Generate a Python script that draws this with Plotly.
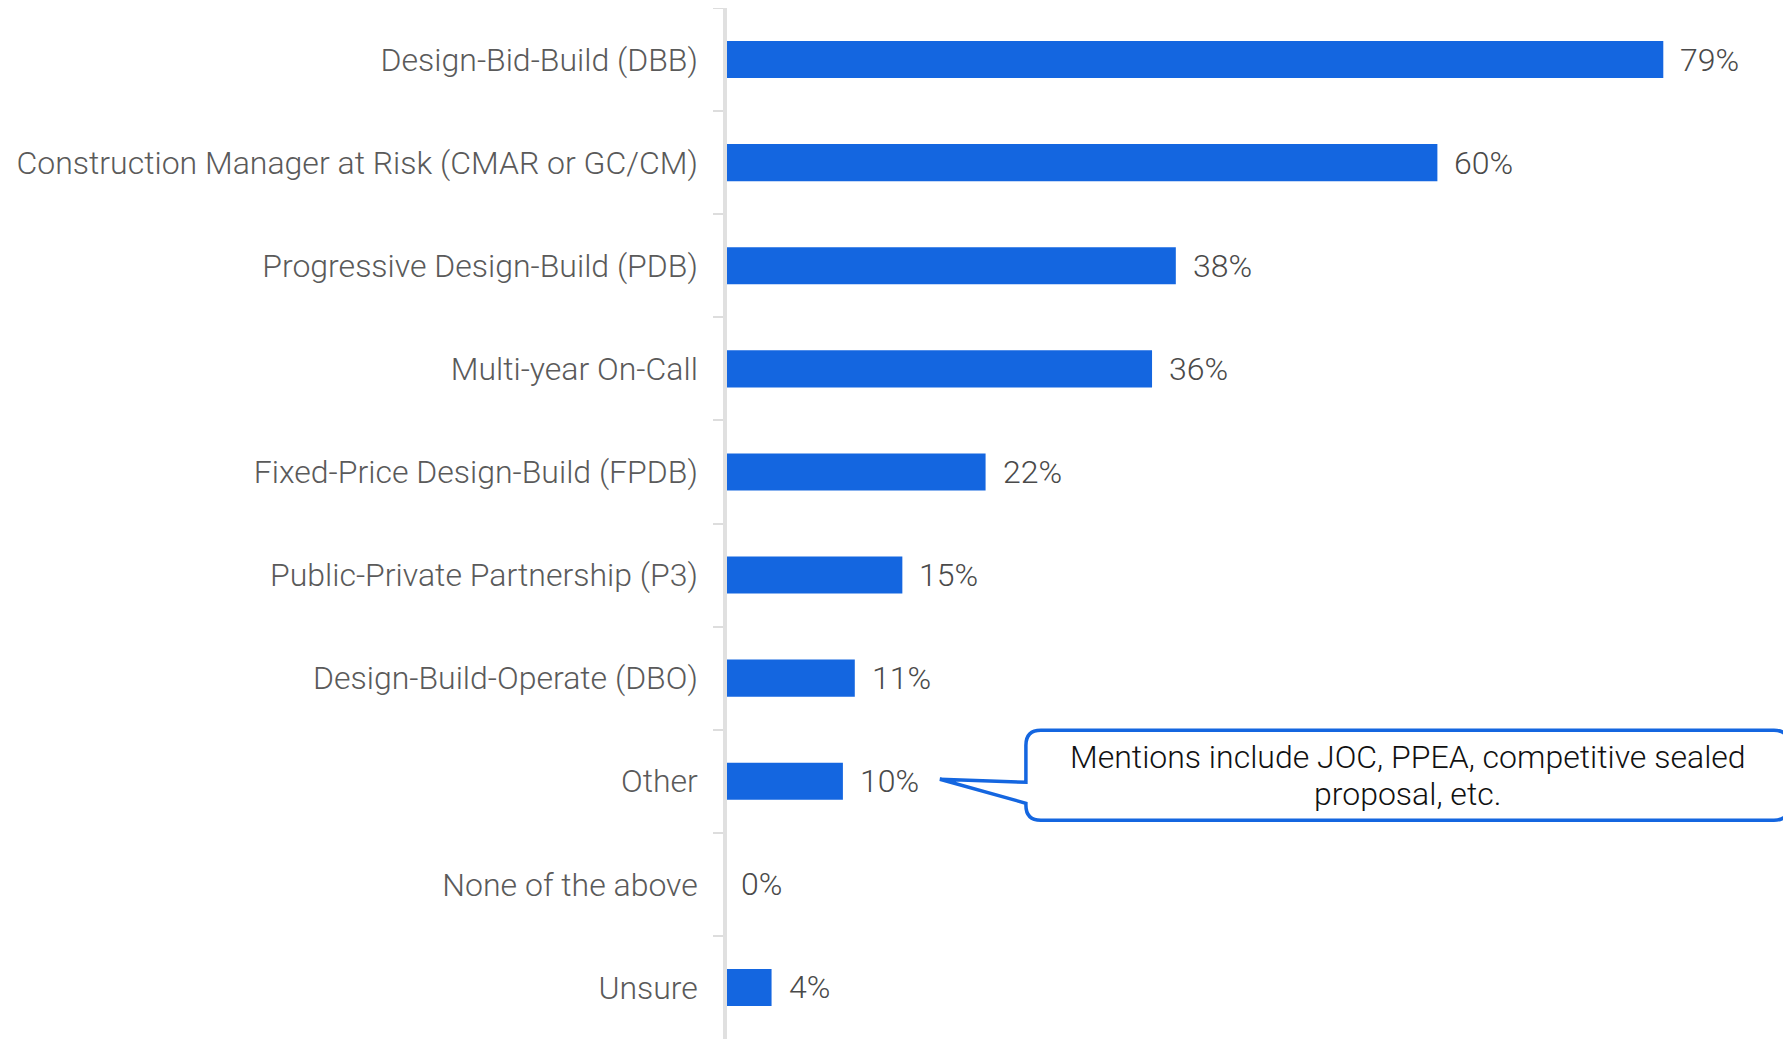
import plotly.graph_objects as go

categories = [
    "Design-Bid-Build (DBB)",
    "Construction Manager at Risk (CMAR or GC/CM)",
    "Progressive Design-Build (PDB)",
    "Multi-year On-Call",
    "Fixed-Price Design-Build (FPDB)",
    "Public-Private Partnership (P3)",
    "Design-Build-Operate (DBO)",
    "Other",
    "None of the above",
    "Unsure",
]
values = [79, 60, 38, 36, 22, 15, 11, 10, 0, 4]
value_labels = ["79%", "60%", "38%", "36%", "22%", "15%", "11%", "10%", "0%", "4%"]

callout_category = "Other"
callout_value = 10
callout_lines = ["Mentions include JOC, PPEA, competitive sealed", "proposal, etc."]

BLUE = "#1466e0"
FONT = "Roboto"
PLOT_W = 1783 - 716

fig = go.Figure()
fig.add_trace(go.Bar(
    x=values, y=categories, orientation="h",
    marker=dict(color=BLUE, line=dict(width=0)),
    hoverinfo="skip",
))

for c, v, t in zip(categories, values, value_labels):
    fig.add_annotation(
        x=v, y=c, text=t, showarrow=False, xanchor="left", xshift=15,
        font=dict(family=FONT, size=32, color="#4a4a4a", weight=300),
    )

# callout bubble (pixel-sized, anchored at the "Other" bar value)
x0, x1, yt, yb, r = 183, 946, 51, -39, 15
path = (
    f"M {x0+r},{yt} L {x1-r},{yt} Q {x1},{yt} {x1},{yt-r} "
    f"L {x1},{yb+r} Q {x1},{yb} {x1-r},{yb} "
    f"L {x0+r},{yb} Q {x0},{yb} {x0},{yb+r} "
    f"L {x0},-22 L 97,2 L {x0},-1 "
    f"L {x0},{yt-r} Q {x0},{yt} {x0+r},{yt} Z"
)
fig.add_shape(
    type="path", path=path, xref="x", yref="y",
    xsizemode="pixel", ysizemode="pixel",
    xanchor=callout_value, yanchor=callout_category,
    line=dict(color=BLUE, width=3.5), fillcolor="white", layer="above",
)
for line_text, ys in zip(callout_lines, [24, -13]):
    fig.add_annotation(
        x=callout_value, y=callout_category, text=line_text, showarrow=False,
        xanchor="center", yanchor="middle", xshift=565, yshift=ys,
        font=dict(family=FONT, size=32, color="#111111", weight=300),
    )

fig.update_layout(
    width=1783, height=1031,
    margin=dict(l=716, r=0, t=0, b=0, pad=0),
    paper_bgcolor="white", plot_bgcolor="white",
    showlegend=False, bargap=0.64,
    font=dict(family=FONT),
)
fig.update_xaxes(
    range=[0, 89.74], showgrid=False, zeroline=False, showticklabels=False,
    showline=False, ticks="",
)
fig.update_yaxes(
    autorange="reversed", showgrid=False, zeroline=False,
    anchor="free", position=1.0 / PLOT_W,
    showline=True, linecolor="#e0e0e0", linewidth=3.5,
    ticks="outside", tickson="boundaries", ticklen=10, tickcolor="#dddddd", tickwidth=2,
    ticklabelstandoff=19,
    tickfont=dict(family=FONT, size=32, color="#5a5a5a", weight=300),
)

fig.write_html("out.html")
